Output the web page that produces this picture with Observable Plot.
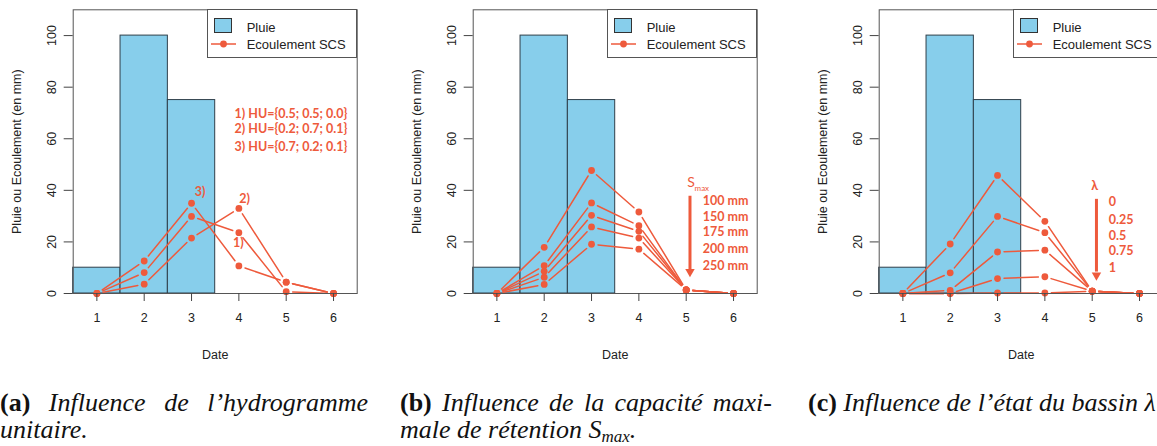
<!DOCTYPE html>
<html><head><meta charset="utf-8">
<script src="https://cdn.jsdelivr.net/npm/d3@7"></script>
<script src="https://cdn.jsdelivr.net/npm/@observablehq/plot@0.6"></script>
<style>
body{margin:0;background:#fff;}
#wrap{position:relative;width:1157px;height:446px;overflow:hidden;background:#fff;}
.panel{position:absolute;top:0;width:400px;height:370px;}
.legend{position:absolute;left:206.7px;top:9.3px;width:150px;height:49px;border:1px solid #555;box-sizing:border-box;background:#fff;font:13px "Liberation Sans",Arial,sans-serif;color:#222;}
.legend .sw{position:absolute;left:6px;top:8px;width:18px;height:15px;box-sizing:border-box;background:#87CEEB;border:1px solid #333;}
.legend .t1{position:absolute;left:39px;top:10px;}
.legend .t2{position:absolute;left:39px;top:27px;}
.legend svg{position:absolute;left:2px;top:28px;}
.caption{position:absolute;top:389px;font-family:"Liberation Serif","Times New Roman",serif;font-size:26px;line-height:27px;font-style:italic;color:#111;hyphens:manual;}
.caption b{font-style:normal;}
.caption sub{font-size:17px;line-height:0;vertical-align:-4px;}
</style></head>
<body><div id="wrap"></div>
<script>
const ORANGE = "#EE5A3C";
const dates = [1, 2, 3, 4, 5, 6];
const rain = [10, 100, 75, 0, 0, 0];
const yTicks = [0, 20, 40, 60, 80, 100];

// (a) unit hydrograph
const hu1 = [0, 8.1, 29.9, 23.6, 0.7, 0];
const hu2 = [0, 3.6, 21.5, 33.0, 4.4, 0];
const hu3 = [0, 12.6, 35.0, 10.7, 4.4, 0];
const huText = ["1) HU={0.5; 0.5; 0.0}", "2) HU={0.2; 0.7; 0.1}", "3) HU={0.7; 0.2; 0.1}"];
const huTextY = [69.7, 63.9, 56.9];
const huTextX = 5.1;
const huTags = ["1)", "2)", "3)"];
const huTagX = [3.99, 4.12, 3.18];
const huTagY = [19.6, 36.7, 39.2];

// (b) Smax
const s100 = [0, 17.9, 47.7, 31.6, 1.4, 0];
const s150 = [0, 10.8, 35.1, 26.3, 1.4, 0];
const s175 = [0, 8.6, 30.3, 24.1, 1.4, 0];
const s200 = [0, 6.3, 25.8, 21.5, 1.4, 0];
const s250 = [0, 3.5, 19.1, 17.2, 1.4, 0];
const sLabels = ["100 mm", "150 mm", "175 mm", "200 mm", "250 mm"];
const sLabelY = [36.0, 29.8, 23.7, 17.3, 10.8];
const sLabelX = 5.35;
const sArrow = {x: 5.08, from: 37.9, to: 9.5, head: 8.4};
const sTitle = {x: 5.1, y: 42.9, subX: 5.33, subY: 40.9};

// (c) lambda
const l0 = [0, 19.2, 45.8, 28.0, 0.9, 0];
const l25 = [0, 8.0, 29.9, 23.6, 0.9, 0];
const l50 = [0, 1.2, 16.1, 16.8, 0.9, 0];
const l75 = [0, 0, 5.8, 6.5, 0.9, 0];
const l100 = [0, 0, 0.2, 0.2, 0.9, 0];
const lLabels = ["0", "0.25", "0.5", "0.75", "1"];
const lLabelY = [35.3, 28.6, 22.4, 16.3, 9.8];
const lLabelX = 5.35;
const lArrow = {x: 5.09, from: 36.7, to: 8.5, head: 7.1};
const lTitle = {x: 5.05, y: 41.5};

const annFont = {fontFamily: "Lato, 'Open Sans', sans-serif", fontWeight: "bold", fill: ORANGE, fontSize: 12.5};

function panel(series, extra) {
  const segs = [];
  series.forEach(s => { for (let i = 0; i < dates.length - 1; i++) segs.push({x1: dates[i], y1: s[i], x2: dates[i + 1], y2: s[i + 1]}); });
  const pts = series.flatMap(s => s.map((v, i) => ({x: dates[i], y: v})));
  return Plot.plot({
    width: 400, height: 370,
    marginLeft: 72.7, marginRight: 43.3, marginTop: 9.3, marginBottom: 77,
    x: {domain: [0.5, 6.5]},
    y: {domain: [0, 110]},
    style: {fontFamily: "'Liberation Sans', Arial, sans-serif", fontSize: "12px", color: "#222", background: "transparent", overflow: "visible"},
    marks: [
      Plot.rectY(dates.filter((d, i) => rain[i] > 0), {x1: d => d - 0.5, x2: d => d + 0.5, y: d => rain[dates.indexOf(d)], fill: "#87CEEB", stroke: "#2f3f4a", strokeWidth: 1}),
      Plot.arrow(segs, {x1: "x1", y1: "y1", x2: "x2", y2: "y2", stroke: ORANGE, strokeWidth: 1.5, headLength: 0, inset: 6.5}),
      Plot.dot(pts, {x: "x", y: "y", r: 3.4, fill: ORANGE, stroke: "none"}),
      Plot.frame({stroke: "#555"}),
      Plot.axisX({ticks: dates, tickSize: 8, tickPadding: 12, tickFormat: d => String(d), stroke: "#444", label: "Date", labelAnchor: "center", labelOffset: 65, labelArrow: "none", fontSize: 12.5}),
      Plot.axisY({ticks: yTicks, tickSize: 9, tickRotate: -90, tickPadding: 8, stroke: "#444", label: "Pluie ou Ecoulement (en mm)", labelAnchor: "center", labelOffset: 61, labelArrow: "none", fontSize: 12.5}),
      ...extra
    ]
  });
}

function legendHTML() {
  return `<div class="legend"><div class="sw"></div><div class="t1">Pluie</div><div class="t2">Ecoulement SCS</div>
  <svg width="30" height="12"><line x1="1" y1="6" x2="26" y2="6" stroke="${ORANGE}" stroke-width="1.5"/><circle cx="13.5" cy="6" r="3.4" fill="${ORANGE}"/></svg></div>`;
}

function arrowMarks(a) {
  return [
    Plot.link([a], {x1: d => d.x, x2: d => d.x, y1: d => d.from, y2: d => d.to, stroke: ORANGE, strokeWidth: 3}),
    Plot.dot([a], {x: d => d.x, y: d => d.head, symbol: "triangle", rotate: 180, r: 3.5, fill: ORANGE, stroke: "none"})
  ];
}

const wrap = document.getElementById("wrap");
function addPanel(left, svg) {
  const div = document.createElement("div");
  div.className = "panel";
  div.style.left = left + "px";
  div.appendChild(svg);
  div.insertAdjacentHTML("beforeend", legendHTML());
  wrap.appendChild(div);
}

addPanel(0, panel([hu1, hu2, hu3], [
  Plot.text(huText, {x: () => huTextX, y: (d, i) => huTextY[i], text: d => d, ...annFont}),
  Plot.text(huTags, {x: (d, i) => huTagX[i], y: (d, i) => huTagY[i], text: d => d, ...annFont})
]));

addPanel(400, panel([s100, s150, s175, s200, s250], [
  ...arrowMarks(sArrow),
  Plot.text(["S"], {x: () => sTitle.x, y: () => sTitle.y, text: d => d, ...annFont, fontWeight: "normal", fontSize: 14}),
  Plot.text(["max"], {x: () => sTitle.subX, y: () => sTitle.subY, text: d => d, ...annFont, fontWeight: "normal", fontSize: 8}),
  Plot.text(sLabels, {x: () => sLabelX, y: (d, i) => sLabelY[i], text: d => d, textAnchor: "start", ...annFont})
]));

addPanel(806, panel([l0, l25, l50, l75, l100], [
  ...arrowMarks(lArrow),
  Plot.text(["λ"], {x: () => lTitle.x, y: () => lTitle.y, text: d => d, ...annFont}),
  Plot.text(lLabels, {x: () => lLabelX, y: (d, i) => lLabelY[i], text: d => d, textAnchor: "start", ...annFont})
]));

wrap.insertAdjacentHTML("beforeend", `
<div class="caption" style="left:0px;width:368px;text-align:justify;"><b>(a)</b> Influence de l’hydrogramme unitaire.</div>
<div class="caption" style="left:400px;width:372px;text-align:justify;"><b>(b)</b> Influence de la capacité maxi&shy;male de rétention S<sub>max</sub>.</div>
<div class="caption" style="left:808px;width:420px;white-space:nowrap;"><b>(c)</b> Influence de l’état du bassin λ</div>
`);
</script></body></html>
